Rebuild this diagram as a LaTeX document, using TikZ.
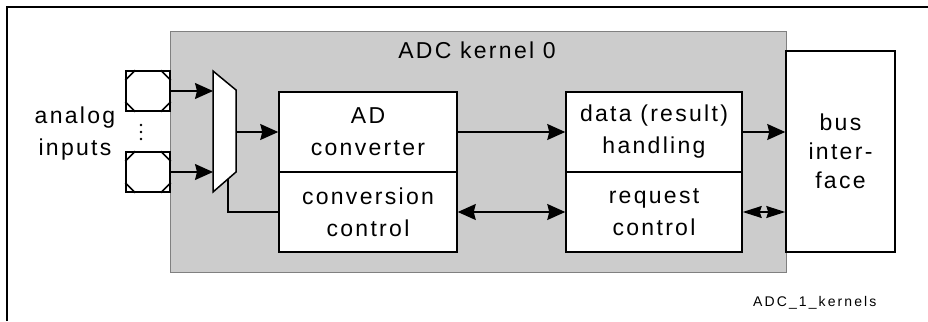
\documentclass[tikz,border=0pt]{standalone}
\usepackage{fontspec}
\setmainfont{Liberation Sans}[LetterSpace=10]
\newfontfamily\smallfont{Liberation Sans}[LetterSpace=15]
\usetikzlibrary{arrows.meta,calc}
\begin{document}
\begin{tikzpicture}[x=1pt,y=-1pt,
  big/.style={font=\fontsize{23}{32}\selectfont},
  box/.style={draw=black, line width=1.5pt, fill=white, inner sep=0pt, align=center, big},
  pad/.style={draw=black, line width=1.5pt, fill=white, minimum width=44pt, minimum height=40pt, inner sep=0pt},
  wire/.style={line width=1.3pt},
  tip/.tip={Stealth[length=18pt,width=16pt,inset=2pt]},
  smalltip/.tip={Stealth[length=19pt,width=12pt,inset=2pt]},
  arr/.style={wire, -tip},
  darr/.style={wire, tip-tip},
  sdarr/.style={wire, smalltip-smalltip}]
\useasboundingbox (0,0) rectangle (928,321);
% frame
\draw[line width=2.2pt] (7,321) -- (7,7) -- (928,7);
% kernel
\node[draw=gray, line width=0.8pt, fill=gray!40, minimum width=616pt, minimum height=241pt, inner sep=0pt, anchor=north west] (kernel) at (170,31) {};
\node[big, anchor=base] (title) at (477,58.3) {ADC kernel 0};
% pads
\node[pad] (pad1) at (148,91) {};
\node[pad] (pad2) at (148,172) {};
\foreach \p in {pad1,pad2} {
  \draw[line width=1.5pt]
    ($(\p.north west)+(10,0)$) -- ($(\p.north west)+(0,10)$)
    ($(\p.north east)+(-10,0)$) -- ($(\p.north east)+(0,10)$)
    ($(\p.south west)+(10,0)$) -- ($(\p.south west)+(0,-10)$)
    ($(\p.south east)+(-10,0)$) -- ($(\p.south east)+(0,-10)$);
}
\foreach \yy in {125,132,139} \fill (141,\yy) circle (1.3pt);
\node[big, align=center] (ain) at (75,133.5) {analog\\inputs};
% mux
\draw[line width=1.5pt, fill=white] (213,71) -- (236,90) -- (236,172) -- (213,192) -- cycle;
\coordinate (muxL) at (213,132);
\coordinate (muxR) at (236,132);
\coordinate (muxB) at (228,179);
% blocks
\node[box, minimum width=178pt, minimum height=80pt] (adc) at (368,132) {AD\\converter};
\node[box, minimum width=178pt, minimum height=80pt] (conv) at (368,212) {conversion\\control};
\node[box, minimum width=176pt, minimum height=80pt] (data) at (654,132) {data (result)\\handling};
\node[box, minimum width=176pt, minimum height=80pt] (req) at (654,212) {request\\control};
\node[box, minimum width=109pt, minimum height=201pt, font=\fontsize{23}{29}\selectfont] (bus) at (840.5,151.5) {bus\\inter-\\face};
% connectors
\draw[arr] (pad1.east) -- (pad1.east -| muxL);
\draw[arr] (pad2.east) -- (pad2.east -| muxL);
\draw[arr] (muxR) -- (adc.west);
\draw[wire] (muxB) |- (conv.west);
\draw[arr] (adc.east) -- (data.west);
\draw[darr] (conv.east) -- (req.west);
\draw[arr] (data.east) -- (data.east -| bus.west);
\draw[sdarr] (req.east) -- (req.east -| bus.west);
% caption
\node[anchor=base west, inner sep=0pt, font=\smallfont\fontsize{14}{16}\selectfont] (cap) at (753,306.7) {ADC\_1\_kernels};
\end{tikzpicture}
\end{document}
